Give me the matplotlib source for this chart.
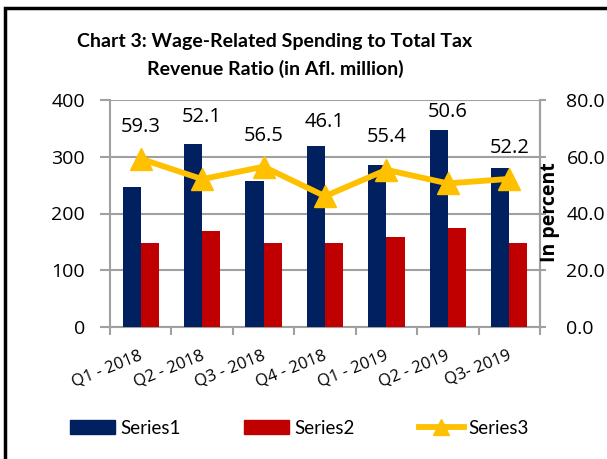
import matplotlib
matplotlib.use("Agg")
import matplotlib.pyplot as plt
import numpy as np
from matplotlib.patches import Rectangle
from matplotlib.lines import Line2D

categories = ["Q1 - 2018", "Q2 - 2018", "Q3 - 2018", "Q4 - 2018", "Q1 - 2019", "Q2 - 2019", "Q3- 2019"]
series1 = [247, 322, 257, 319, 285, 347, 280]
series2 = [148, 169, 148, 148, 159, 174, 148]
series3 = [59.3, 52.1, 56.5, 46.1, 55.4, 50.6, 52.2]
# vertical placement of the ratio labels (right-axis units)
label_y = [70.5, 74.0, 67.3, 72.2, 67.0, 75.8, 63.1]

blue = "#002060"
red = "#C00000"
gold = "#FFC000"
grey = "#A0A0A0"
numfont = "Open Sans"
txtfont = "Lato"

fig = plt.figure(figsize=(6.07, 4.59), dpi=100)
ax = fig.add_axes([110/607, 1-327/459, 430/607, 227/459])
x = np.arange(len(categories))
w = 0.295
ax.bar(x - w/2, series1, w, color=blue, zorder=3)
ax.bar(x + w/2, series2, w, color=red, zorder=3)
ax.set_xlim(-0.5, len(categories) - 0.5)
ax.set_ylim(0, 400)
ax.set_yticks([0, 100, 200, 300, 400])
ax.yaxis.grid(True, color=grey, lw=1.5, zorder=0)
ax.set_xticks(np.arange(-0.5, len(categories), 1.0))
ax.set_xticklabels([])
ax.tick_params(axis="x", length=6, color=grey, width=1.5)
ax.tick_params(axis="y", length=7, color=grey, width=1.5, pad=11, labelsize=14)
for lab in ax.get_yticklabels():
    lab.set_fontfamily(numfont)
ax.spines["top"].set_visible(False)
for s in ["left", "right", "bottom"]:
    ax.spines[s].set_color(grey)
    ax.spines[s].set_linewidth(1.5)
for i, c in enumerate(categories):
    ax.text(i - 0.03, -36, c, rotation=22, ha="right", va="top", rotation_mode="anchor",
            fontsize=12, family=numfont)

ax2 = ax.twinx()
ax2.set_ylim(0, 80)
ax2.set_yticks([0, 20, 40, 60, 80])
ax2.set_yticklabels(["%.1f" % v for v in [0, 20, 40, 60, 80]], family=numfont)
ax2.tick_params(axis="y", length=4, color=grey, width=1.5, pad=15, labelsize=14)
for s in ["top", "left", "bottom"]:
    ax2.spines[s].set_visible(False)
ax2.spines["right"].set_color(grey)
ax2.spines["right"].set_linewidth(1.5)
ax2.plot(x, series3, color=gold, lw=4.2, marker="^", markersize=16, zorder=4)
for i, v in enumerate(series3):
    ax2.text(i, label_y[i], "%.1f" % v, ha="center", va="center", fontsize=14.5, family=numfont)

fig.text(550/607, 1-212/459, "In percent", rotation=90, ha="center", va="center",
         fontsize=14, fontweight="bold", family=numfont)

fig.text(275/607, 1-41/459, "Chart 3: Wage-Related Spending to Total Tax", ha="center", va="center",
         fontsize=14, fontweight="bold", family=txtfont)
fig.text(275/607, 1-69/459, "Revenue Ratio (in Afl. million)", ha="center", va="center",
         fontsize=14, fontweight="bold", family=txtfont)

handles = [Rectangle((0, 0), 1, 1, color=blue), Rectangle((0, 0), 1, 1, color=red),
           Line2D([], [], color=gold, lw=4.2, marker="^", markersize=11)]
fig.legend(handles, ["Series1", "Series2", "Series3"], loc="center left",
           bbox_to_anchor=(70/607, 1-428/459), borderaxespad=0, borderpad=0,
           ncol=3, frameon=False, handlelength=2.4, handleheight=0.7, columnspacing=3.4,
           handletextpad=0.27, prop={"family": txtfont, "size": 13.5})

fig.add_artist(Rectangle((5/607, -0.1), 1.2, 1 - 8/459 + 0.1, transform=fig.transFigure,
                         fill=False, edgecolor="black", lw=2.5))

fig.savefig("out.png", dpi=100)
